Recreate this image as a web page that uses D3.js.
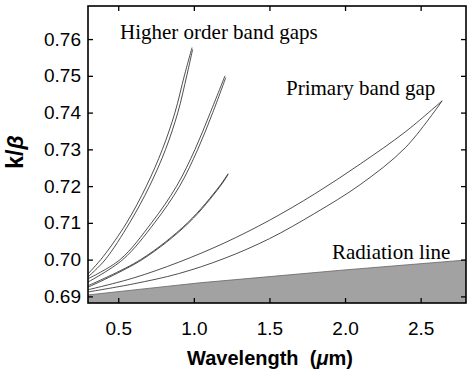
<!DOCTYPE html>
<html>
<head>
<meta charset="utf-8">
<script src="https://cdn.jsdelivr.net/npm/d3@7/dist/d3.min.js"></script>
<style>
  html, body { margin: 0; padding: 0; background: #fff; }
  svg { display: block; }
</style>
</head>
<body>
<svg id="chart" width="474" height="378"></svg>
<script>
// ---- data (wavelength in µm, k/β) ----
const xTicks = [0.5, 1.0, 1.5, 2.0, 2.5];
const yTicks = [0.69, 0.70, 0.71, 0.72, 0.73, 0.74, 0.75, 0.76];

const gap1a = [[0.3,0.6961],[0.40,0.7008],[0.555,0.7100],[0.686,0.7200],[0.792,0.7300],[0.875,0.7400],[0.937,0.7500],[0.988,0.7577]];
const gap1b = [[0.3,0.6953],[0.412,0.6999],[0.575,0.7100],[0.707,0.7200],[0.813,0.7300],[0.894,0.7400],[0.953,0.7500],[0.992,0.7572]];
const gap2a = [[0.3,0.6948],[0.512,0.7000],[0.720,0.7100],[0.886,0.7200],[1.008,0.7300],[1.109,0.7400],[1.206,0.7500]];
const gap2b = [[0.3,0.6939],[0.530,0.7000],[0.740,0.7100],[0.906,0.7200],[1.026,0.7300],[1.125,0.7400],[1.211,0.7495]];
const gap3a = [[0.3,0.6929],[0.648,0.7000],[0.958,0.7100],[1.170,0.7200],[1.227,0.7234]];
const gap3b = [[0.3,0.6925],[0.658,0.7000],[0.966,0.7100],[1.175,0.7200],[1.227,0.7232]];
const primaryUpper = [[0.3,0.6918],[0.6,0.6950],[0.9,0.6993],[1.2,0.7045],[1.5,0.7107],[1.8,0.7179],[2.1,0.7260],[2.4,0.7348],[2.642,0.7432]];
const primaryLower = [[0.3,0.6912],[0.6,0.6934],[0.9,0.6962],[1.2,0.7003],[1.5,0.7057],[1.8,0.7126],[2.1,0.7204],[2.4,0.7305],[2.642,0.7432]];
const radiationLine = [[0.3,0.6904],[1.04,0.6937],[1.37,0.6949],[1.97,0.6971],[2.8,0.6999]];

const bandLines = [gap1a, gap1b, gap2a, gap2b, gap3a, gap3b, primaryUpper, primaryLower];

// ---- layout ----
const svg = d3.select("#chart");
const L = 88, R = 466, T = 6, B = 303;
const x = d3.scaleLinear().domain([0.3, 2.8]).range([L, R]);
const y = d3.scaleLinear().domain([0.6882, 0.769]).range([B, T]);

// radiation region
const area = d3.area()
  .x(d => x(d[0])).y0(y(0.6882)).y1(d => y(d[1]));
svg.append("path").datum(radiationLine).attr("d", area).attr("fill", "#a2a2a2");
svg.append("path").datum(radiationLine)
  .attr("d", d3.line().x(d => x(d[0])).y(d => y(d[1])))
  .attr("fill","none").attr("stroke","#666").attr("stroke-width",0.8);

// band lines
const line = d3.line().x(d => x(d[0])).y(d => y(d[1])).curve(d3.curveCatmullRom.alpha(0.5));
svg.selectAll("path.band").data(bandLines).enter().append("path")
  .attr("class","band").attr("d", line)
  .attr("fill","none").attr("stroke","#222").attr("stroke-width",0.8);

// axes
const tickFont = "19px 'Liberation Sans', Arial, sans-serif";
const gx = svg.append("g").attr("transform", `translate(0,${B})`)
  .call(d3.axisBottom(x).tickValues(xTicks).tickFormat(d3.format(".1f")).tickSize(-5).tickPadding(19));
const gy = svg.append("g").attr("transform", `translate(${L},0)`)
  .call(d3.axisLeft(y).tickValues(yTicks).tickFormat(d3.format(".2f")).tickSize(-5).tickPadding(7));
const gxt = svg.append("g").attr("transform", `translate(0,${T})`)
  .call(d3.axisTop(x).tickValues(xTicks).tickFormat("").tickSize(-5));
const gyr = svg.append("g").attr("transform", `translate(${R},0)`)
  .call(d3.axisRight(y).tickValues(yTicks).tickFormat("").tickSize(-5));
[gx, gy, gxt, gyr].forEach(g => {
  g.select(".domain").remove();
  g.selectAll(".tick line").attr("stroke","#000").attr("stroke-width",1.3);
  g.selectAll("text").style("font", tickFont).attr("fill","#000");
});

// frame
svg.append("rect").attr("x", L).attr("y", T).attr("width", R - L).attr("height", B - T)
  .attr("fill","none").attr("stroke","#000").attr("stroke-width",1.6);

// axis titles
const xl = svg.append("text").attr("x", 270).attr("y", 365).attr("text-anchor","middle")
  .style("font", "bold 20px 'Liberation Sans', Arial, sans-serif");
xl.append("tspan").text("Wavelength\u00A0\u00A0(");
xl.append("tspan").style("font-style","italic").text("\u03BC");
xl.append("tspan").text("m)");
const yl = svg.append("text").attr("transform","translate(23,152) rotate(-90)")
  .attr("text-anchor","middle")
  .style("font", "bold 23px 'Liberation Sans', Arial, sans-serif");
yl.append("tspan").text("k/");
yl.append("tspan").style("font-style","italic").text("\u03B2");

// annotations
const annFont = "21px 'Liberation Serif', 'Times New Roman', serif";
svg.append("text").attr("x",120).attr("y",39).style("font", annFont).text("Higher order band gaps");
svg.append("text").attr("x",286).attr("y",95).style("font", annFont).text("Primary band gap");
svg.append("text").attr("x",332).attr("y",259).style("font", annFont).text("Radiation line");
</script>
</body>
</html>
